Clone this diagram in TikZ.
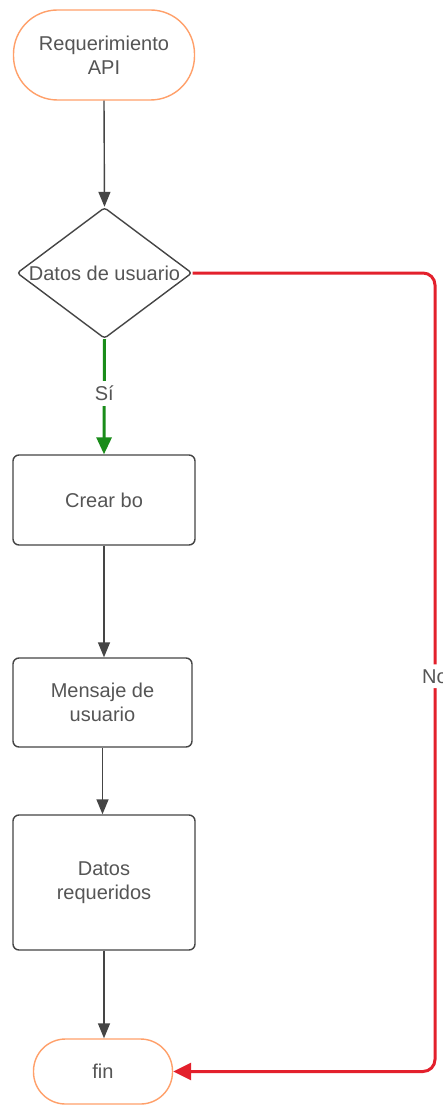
\documentclass[tikz,border=0pt]{standalone}
\usepackage{fontspec}
\setmainfont{Liberation Sans}
\usetikzlibrary{shapes.geometric,arrows.meta}
\definecolor{txt}{HTML}{555555}
\definecolor{edge}{HTML}{454545}
\definecolor{term}{HTML}{FFA06A}
\definecolor{yes}{HTML}{1A8C1A}
\definecolor{no}{HTML}{E3202C}
\begin{document}
\begin{tikzpicture}[x=1pt,y=-1pt,
  every node/.style={font=\fontsize{20}{24}\selectfont, text=txt, align=center, inner sep=0pt},
  terminal/.style={draw=term, line width=1.4pt, fill=white, rectangle},
  process/.style={draw=edge, line width=1.4pt, fill=white, rectangle, rounded corners=6pt},
  decision/.style={draw=edge, line width=1.4pt, fill=white, diamond, rounded corners=3pt},
  flow/.style={draw=edge, line width=1.4pt, -{Triangle[length=15pt,width=12pt]}},
  yesflow/.style={draw=yes, line width=3pt, -{Triangle[length=17pt,width=15pt]}},
  noflow/.style={draw=no, line width=3pt, rounded corners=12pt, -{Triangle[length=18pt,width=17pt]}},
  tag/.style={fill=white, inner sep=5pt}
]
\useasboundingbox (0,0) rectangle (443,1107);
\fill[white] (0,0) rectangle (443,1107);

% nodes of the flow
\node[terminal, rounded corners=44pt, minimum width=181pt, minimum height=90pt] (start) at (104,55) {Requerimiento\\API};
\node[decision, minimum width=175pt, minimum height=131pt] (dec) at (104.5,273) {\makebox[0pt]{Datos de usuario}};
\node[process, minimum width=182pt, minimum height=90pt] (crear) at (104,500) {Crear bo};
\node[process, minimum width=179pt, minimum height=89pt] (msg) at (102.5,702.5) {Mensaje de\\usuario};
\node[process, minimum width=182pt, minimum height=135pt] (datos) at (104,882.5) {Datos\\requeridos};
\node[terminal, rounded corners=32pt, minimum width=139pt, minimum height=65pt] (fin) at (103,1071.5) {fin};
\coordinate (bend) at (435,0);

% connectors
\draw[flow] (start.south) -- (dec.north);
\draw[yesflow] (dec.south) -- node[tag, pos=0.47] {Sí} (crear.north);
\draw[flow] (crear.south) -- (crear.south |- msg.north);
\draw[flow] (msg.south) -- (msg.south |- datos.north);
\draw[flow] (datos.south) -- (datos.south |- fin.north);
\draw[noflow] (dec.east) -- (dec.east -| bend) -- node[tag, pos=0.505] {No} (fin.east -| bend) -- (fin.east);
\end{tikzpicture}
\end{document}
